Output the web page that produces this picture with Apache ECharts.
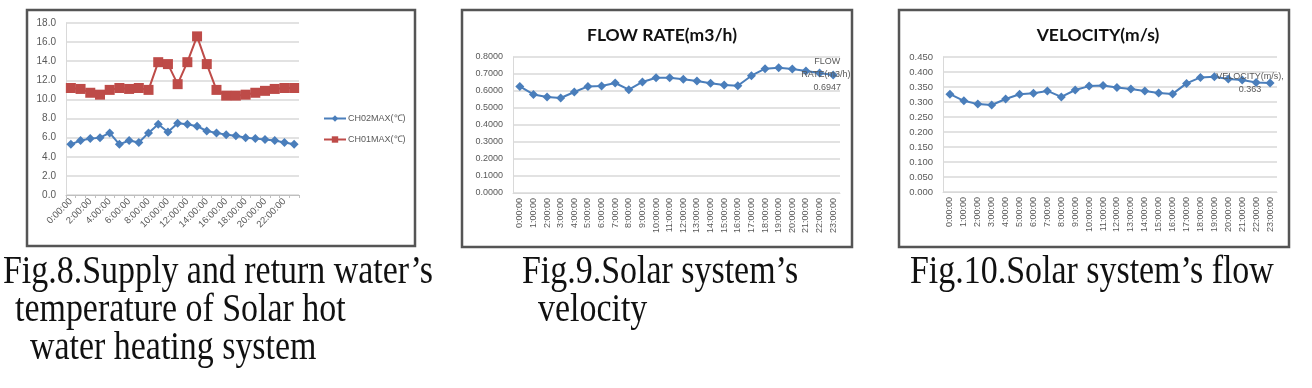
<!DOCTYPE html>
<html><head><meta charset="utf-8">
<script src="https://cdn.jsdelivr.net/npm/echarts@6/dist/echarts.min.js"></script>
<style>html,body{margin:0;padding:0;background:#fff}#c{width:1312px;height:388px}</style>
</head><body><div id="c"></div>
<script>
const hours = ["0:00:00","1:00:00","2:00:00","3:00:00","4:00:00","5:00:00","6:00:00","7:00:00","8:00:00","9:00:00","10:00:00","11:00:00","12:00:00","13:00:00","14:00:00","15:00:00","16:00:00","17:00:00","18:00:00","19:00:00","20:00:00","21:00:00","22:00:00","23:00:00"];
const ch02Max = [5.3,5.7,5.9,6.0,6.5,5.3,5.7,5.5,6.5,7.4,6.6,7.5,7.4,7.2,6.7,6.5,6.3,6.2,6.0,5.9,5.8,5.7,5.5,5.3];
const ch01Max = [11.2,11.1,10.7,10.5,11.0,11.2,11.1,11.2,11.0,13.9,13.7,11.6,13.9,16.6,13.7,11.0,10.4,10.4,10.5,10.7,10.9,11.1,11.2,11.2];
const flowRate = [0.627,0.580,0.565,0.559,0.594,0.627,0.629,0.647,0.608,0.653,0.678,0.678,0.669,0.659,0.645,0.635,0.631,0.690,0.731,0.737,0.729,0.718,0.706,0.6947];
const velocity = [0.326,0.304,0.293,0.290,0.310,0.326,0.329,0.337,0.317,0.340,0.353,0.355,0.348,0.343,0.337,0.330,0.327,0.362,0.382,0.384,0.377,0.373,0.365,0.363];
const seriesNames = ["CH02MAX(℃)","CH01MAX(℃)","FLOW RATE(m3/h)","VELOCITY(m/s)"];
const chartTitles = ["FLOW RATE(m3/h)","VELOCITY(m/s)"];
const captions = [
  ["Fig.8.Supply and return water’s","temperature of Solar hot","water heating system"],
  ["Fig.9.Solar system’s","velocity"],
  ["Fig.10.Solar system’s flow"]
];

const BLUE = '#4a7ebb', RED = '#be4b48', GRID = '#d9d9d9', TXT = '#595959';
const LF = 'Liberation Sans';

function lastLabeled(arr, formatter, offset) {
  return arr.map((v, i) => i === arr.length - 1
    ? {value: v, label: {show: true, position: 'inside', offset: offset, formatter: formatter,
        color: TXT, fontSize: 9, fontFamily: LF, lineHeight: 13, align: 'center'}}
    : v);
}

function yAx(grid, max, interval, dec, fs) {
  return {
    type: 'value', gridIndex: grid, min: 0, max: max, interval: interval,
    axisLine: {show: true, lineStyle: {color: GRID}},
    axisTick: {show: false},
    splitLine: {lineStyle: {color: GRID, width: 1.5}},
    axisLabel: {formatter: v => v.toFixed(dec), color: TXT, fontSize: fs, fontFamily: LF, margin: 10}
  };
}

const frames = [[27,10,388,236],[462,10,390,237],[899,10,390,237]];
const graphic = [];
frames.forEach(f => graphic.push({type: 'rect', z: -1, shape: {x: f[0], y: f[1], width: f[2], height: f[3]},
  style: {fill: '#fff', stroke: '#555', lineWidth: 2.5}}));
const capPos = [[3, 15, 30], [522, 538], [910]];
captions.forEach((lines, ci) => lines.forEach((t, li) => graphic.push({
  type: 'text', x: capPos[ci][li], y: 273 + li * 38, scaleX: 0.87,
  style: {text: t, font: '39px "Liberation Serif"', fill: '#111', textVerticalAlign: 'middle'}
})));

const lineCommon = {type: 'line', showAllSymbol: true, lineStyle: {width: 2}};

const option = {
  animation: false,
  backgroundColor: '#fff',
  graphic: graphic,
  title: [
    {text: chartTitles[0], left: 657, top: 21, textAlign: 'center',
      textStyle: {fontFamily: 'Lato', fontWeight: 'bold', fontSize: 17.5, color: '#111'}},
    {text: chartTitles[1], left: 1093, top: 21, textAlign: 'center',
      textStyle: {fontFamily: 'Lato', fontWeight: 'bold', fontSize: 17.5, color: '#111'}}
  ],
  legend: {
    data: [seriesNames[0], seriesNames[1]], orient: 'vertical', left: 318, top: 109,
    itemWidth: 22, itemHeight: 8, itemGap: 12,
    textStyle: {color: TXT, fontSize: 9, fontFamily: LF, padding: [0, 0, 0, -3]}
  },
  grid: [
    {left: 66, top: 23, width: 233, height: 172},
    {left: 513, top: 57, width: 327, height: 136},
    {left: 943, top: 57, width: 334, height: 135}
  ],
  xAxis: [
    {type: 'category', gridIndex: 0, data: hours, boundaryGap: true,
      axisLine: {lineStyle: {color: '#bfbfbf'}},
      axisTick: {show: true, interval: 0, length: 3, lineStyle: {color: '#bfbfbf'}},
      axisLabel: {rotate: 45, interval: 1, color: TXT, fontSize: 9.5, fontFamily: LF, margin: 5}},
    {type: 'category', gridIndex: 1, data: hours, boundaryGap: true,
      axisLine: {lineStyle: {color: GRID}}, axisTick: {show: false},
      axisLabel: {rotate: 90, interval: 0, color: TXT, fontSize: 9, fontFamily: LF, margin: 5}},
    {type: 'category', gridIndex: 2, data: hours, boundaryGap: true,
      axisLine: {lineStyle: {color: GRID}}, axisTick: {show: false},
      axisLabel: {rotate: 90, interval: 0, color: TXT, fontSize: 9, fontFamily: LF, margin: 5}}
  ],
  yAxis: [
    yAx(0, 18, 2, 1, 10),
    yAx(1, 0.8, 0.1, 4, 9),
    yAx(2, 0.45, 0.05, 3, 9.5)
  ],
  series: [
    Object.assign({}, lineCommon, {name: seriesNames[0], xAxisIndex: 0, yAxisIndex: 0, data: ch02Max,
      symbol: 'diamond', symbolSize: 9, color: BLUE}),
    Object.assign({}, lineCommon, {name: seriesNames[1], xAxisIndex: 0, yAxisIndex: 0, data: ch01Max,
      symbol: 'rect', symbolSize: 10, color: RED}),
    Object.assign({}, lineCommon, {name: seriesNames[2], xAxisIndex: 1, yAxisIndex: 1,
      data: lastLabeled(flowRate, p => p.seriesName.replace(' ', '\n') + ',\n' + p.value.toFixed(4), [-6, 0]),
      symbol: 'diamond', symbolSize: 9, color: BLUE}),
    Object.assign({}, lineCommon, {name: seriesNames[3], xAxisIndex: 2, yAxisIndex: 2,
      data: lastLabeled(velocity, p => p.seriesName + ',\n' + p.value, [-20, 0]),
      symbol: 'diamond', symbolSize: 9, color: BLUE})
  ]
};
const chart = echarts.init(document.getElementById('c'), null, {renderer: 'canvas'});
chart.setOption(option);
</script></body></html>
